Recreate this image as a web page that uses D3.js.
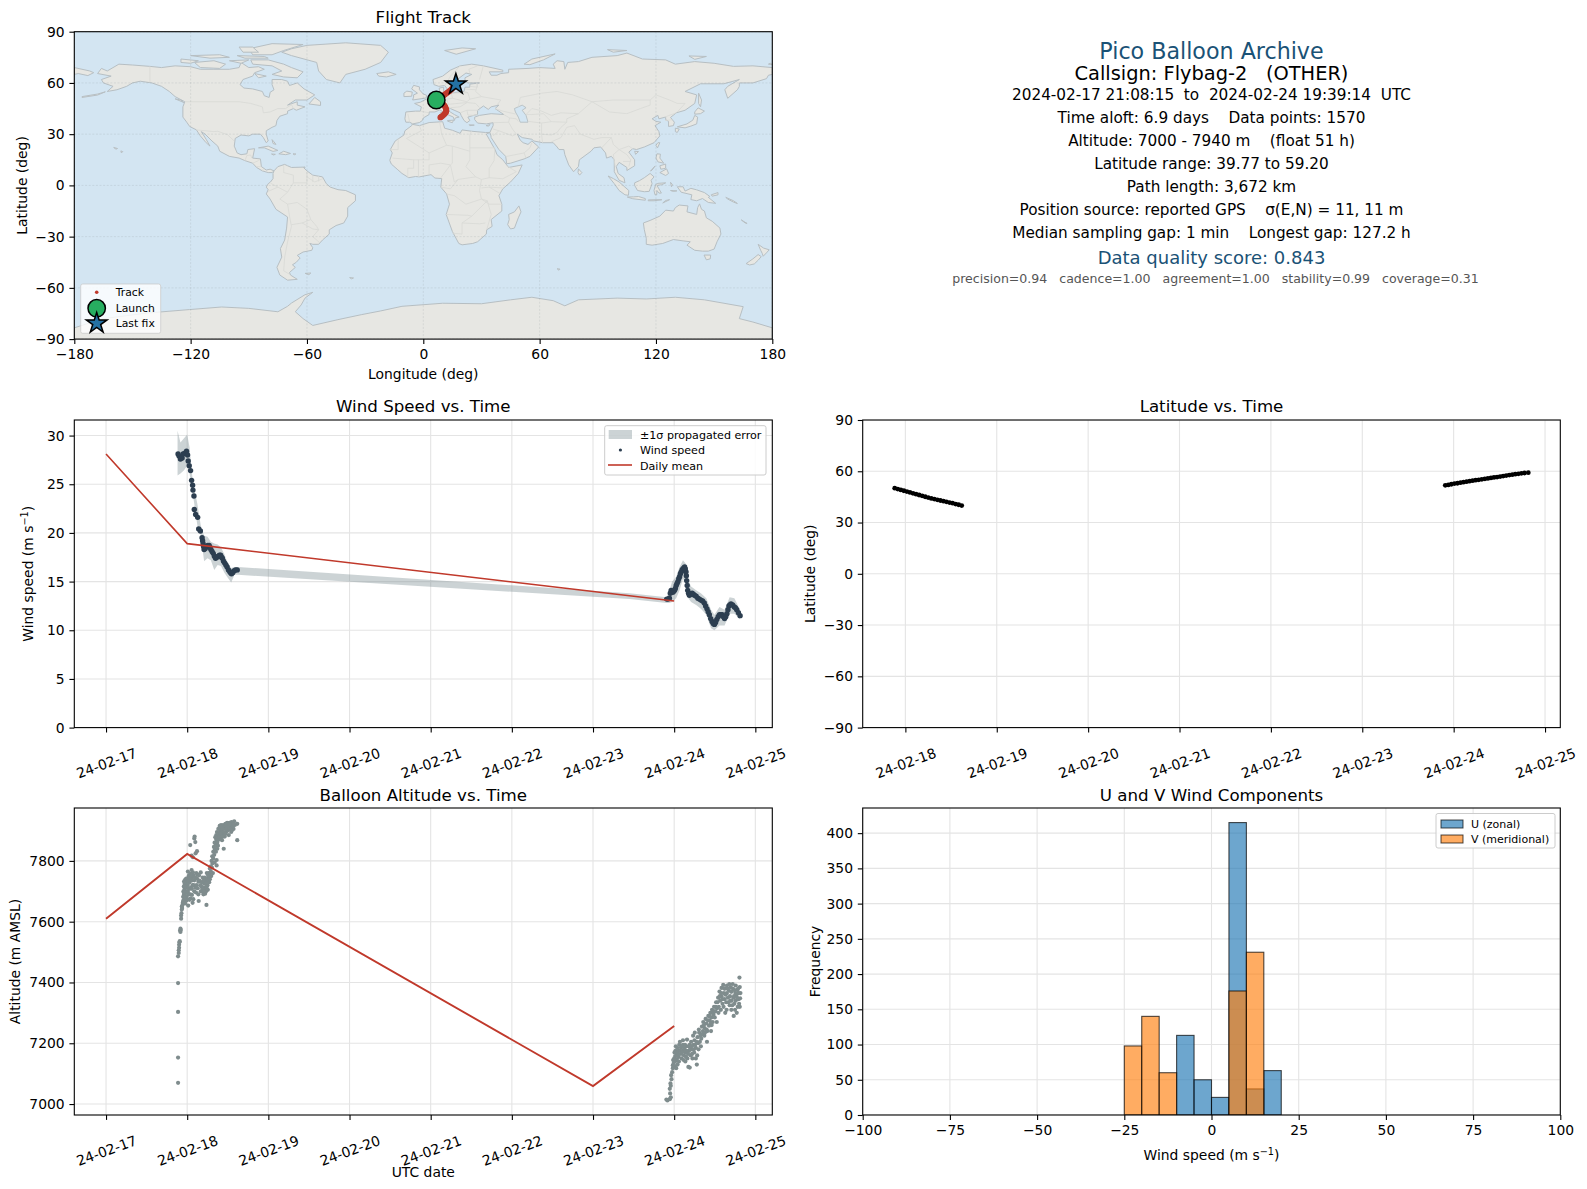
<!DOCTYPE html>
<html><head><meta charset="utf-8">
<style>html,body{margin:0;padding:0;background:#fff}svg{display:block}text{font-family:"DejaVu Sans",sans-serif;fill:#000;white-space:pre}</style>
<script src="https://cdn.jsdelivr.net/npm/d3@7"></script></head><body><svg id="c" width="1587" height="1189"></svg>
<script>
// ---------- DATA ----------
const infoLines=[
 ["Pico Balloon Archive",22.2,"#1a5276",50.6,0],
 ["Callsign: Flybag-2   (OTHER)",19.4,"#000",73.6,0],
 ["2024-02-17 21:08:15  to  2024-02-24 19:39:14  UTC",15.28,"#000",94.5,0],
 ["Time aloft: 6.9 days    Data points: 1570",15.28,"#000",117.6,0],
 ["Altitude: 7000 - 7940 m    (float 51 h)",15.28,"#000",140.8,0],
 ["Latitude range: 39.77 to 59.20",15.28,"#000",164,0],
 ["Path length: 3,672 km",15.28,"#000",187,0],
 ["Position source: reported GPS    σ(E,N) = 11, 11 m",15.28,"#000",210.3,0],
 ["Median sampling gap: 1 min    Longest gap: 127.2 h",15.28,"#000",233,0],
 ["Data quality score: 0.843",18,"#1a5276",257,0],
 ["precision=0.94   cadence=1.00   agreement=1.00   stability=0.99   coverage=0.31",12.55,"#555",278,4]];
const dayTicks=[0,1,2,3,4,5,6,7,8];
const lonTicks=[-180,-120,-60,0,60,120,180];
const latTicks=[-90,-60,-30,0,30,60,90];
const windTicks=[0,5,10,15,20,25,30];
const altTicks=[7000,7200,7400,7600,7800];
const histXTicks=[-100,-75,-50,-25,0,25,50,75,100];
const histYTicks=[0,50,100,150,200,250,300,350,400];

const trackLegA=[[6.7,50.1],[7.3,49.7],[8,49.3],[8.7,48.8],[9.4,48.3],[10,47.8],[10.6,47.2],[11,46.6],[11.3,46],[11.5,45.4],[11.7,44.8],[11.9,44.2],[11.9,43.6],[11.7,43],[11.4,42.4],[10.9,41.8],[10.4,41.2],[9.8,40.6],[9.3,40.2],[8.8,39.8]];
const trackLegB=[[9.3,51.7],[9.9,52.2],[10.6,52.8],[11.3,53.4],[12,54],[12.7,54.6],[13.4,55.2],[14.1,55.8],[14.7,56.5],[15.3,57.2],[15.9,57.9],[16.4,58.6],[16.8,59.2]];
const launchFix=[6.7,50];
const lastFix=[16.8,59.2];

// hours since 2024-02-17 00:00 UTC, value
const windLegA=[[21.3,28.1],[21.6,27.9],[22,27.6],[22.5,27.7],[22.8,28.1],[23.3,28.2],[23.8,28.4],[24.1,28],[24.3,27.4],[24.6,26.9],[25,26.4],[25.3,25.4],[25.6,24.9],[25.7,24.4],[26,23.8],[26.1,22.4],[26.5,21.9],[27.1,21.6],[27.4,20.4],[27.9,20.2],[28.4,19.5],[28.7,18.9],[29,18.3],[29.7,18.6],[30.5,18.7],[31,18.3],[31.7,17.9],[32.4,17.4],[33.2,17.6],[33.9,17.7],[34.4,17.4],[35.1,16.9],[35.8,16.5],[36.6,16],[37.1,15.8],[37.8,16.1],[38.8,16.2],
[28.55,19.2],[28.85,18.6],[29.35,18.4],[30.1,18.7],[30.75,18.5],[31.35,18.1],[32.05,17.6],[32.8,17.5],[33.55,17.7],[34.15,17.5],[34.75,17.1],[35.45,16.7],[36.2,16.2],[36.85,15.9],[37.45,15.9],[38.3,16.2]];
const windLegB=[[165.8,13.2],[166.6,13.3],[167.1,14.1],[167.6,13.9],[168.1,14.1],[168.6,14.6],[169.1,15],[169.6,15.5],[170.1,16],[170.6,16.3],[171.1,16.5],[171.5,16],[171.7,15.1],[172,14.1],[172.5,13.6],[173.3,13.8],[174,13.6],[175,13.3],[175.9,13.1],[176.9,12.8],[177.7,12.2],[178.4,11.6],[179.2,10.9],[179.9,10.6],[180.6,11.1],[181.4,11.6],[182.2,11.6],[182.9,11.2],[183.6,11.7],[184.2,12.5],[184.8,12.7],[185.8,12.4],[186.5,12.1],[187.5,11.5],
[166.2,13.2],[166.85,13.8],[167.85,14],[168.35,14.3],[168.85,14.8],[169.35,15.3],[169.85,15.8],[170.35,16.2],[170.85,16.4],[171.3,16.3],[171.6,15.6],[171.85,14.6],[172.25,13.8],[172.9,13.7],[173.65,13.7],[174.5,13.5],[175.45,13.2],[176.4,13],[177.3,12.5],[178.05,11.9],[178.8,11.2],[179.55,10.7],[180.25,10.8],[181,11.4],[181.8,11.6],[182.55,11.4],[183.25,11.4],[183.9,12.1],[184.5,12.6],[185.3,12.6],[186.15,12.3],[187,11.8]];
// hour, lower, upper
const windBand=[[21.15,25.9,30.5],[22,26.1,29.3],[23,26.4,29.7],[24,26.9,30.1],[24.7,26.1,28.8],[25.4,24.4,26.1],[26,23.2,24.7],[27,20.8,23],[28,19.8,20.8],[29,17.1,19.7],[30,17.4,19.6],[31,17.2,19.1],[32,16.2,18.9],[33,16.7,18.8],[34,16.6,18.5],[35,15.9,17.8],[36,15.4,16.9],[37,14.9,16.4],[38,15.7,16.5],[39,15.7,16.5],[154.8,13.2,13.8],[165.8,12.8,13.4],[166.6,12.8,14.1],[167.4,12.9,15],[168.6,13.3,15.5],[169.6,14.1,16.5],[170.6,15.3,17.2],[171.5,14.8,16.8],[172,13.4,15.3],[173,12.9,14.5],[174.5,12.6,14.1],[175.9,12.2,13.8],[177.5,11.6,13.3],[178.9,10.2,12.1],[179.9,10,11.6],[181.4,10.5,12.4],[182.9,10.5,12.1],[184.4,11.7,13.4],[185.8,11.7,13.3],[187.5,11.1,12.1]];
const windMeanDays=[0,1,7];
const windMeanValues=[28.1,18.9,13];
const altMeanDays=[0,1,6,7];
const altMeanValues=[7610,7823,7059,7257];

const altLegA=[[21.3,7070],[21.3,7153],[21.3,7303],[21.3,7398],[21.3,7486],[21.5,7497],[21.5,7506],[21.6,7514],[21.6,7524],[21.7,7532],[21.8,7536],[21.9,7571],[22,7577],[22,7566],[22.1,7573],[22.2,7610],[22.2,7620],[22.3,7628],[22.4,7640],[22.4,7650],[22.6,7655],[22.5,7645],
[22.7,7662],[22.9,7665],[23,7672],[22.8,7682],[23.1,7690],[22.9,7700],[23.2,7706],[23,7716],[23.3,7724],[23.1,7733],[23.4,7738],[23.6,7728],[23.6,7712],[23.5,7696],[23.8,7684],[23.8,7670],[24.1,7674],[24.3,7653],[24.2,7698],[24.1,7720],[24,7735],[24.3,7744],[24.2,7765],[24.5,7752],[24.6,7728],[24.7,7708],[24.9,7690],[25,7676],[25.4,7688],[25.6,7662],[25.8,7674],[25.2,7735],[25.5,7745],[25.3,7770],[25.7,7762],[25.9,7752],[26.1,7736],[26.3,7718],[26.1,7700],[26.6,7696],[26.9,7742],[26.7,7760],[27.1,7755],[27.3,7732],[27.3,7690],[27.4,7668],[27.7,7735],[28,7762],
[24.9,7852],[26.1,7874],[26.4,7862],[26.2,7880],[26.9,7832],[26.5,7825],[25.3,7817],[25.7,7812],
[28.2,7715],[28.3,7700],[28.4,7730],[28.6,7745],[28.7,7712],[28.8,7690],[29,7725],[29.1,7705],[29.2,7745],[29.3,7692],[29.4,7730],[29.4,7712],[29.6,7700],[29.6,7740],[29.7,7655],[29.8,7760],[30,7720],[30,7742],[30.2,7752],[30.3,7735],[30.4,7760],[30.6,7748],[30.7,7775],[30.8,7760],[31,7782],[31,7765],[31.2,7800],[31.3,7778],[31.4,7815],[31.5,7792],[31.7,7830],[31.7,7808],[31.9,7846],[32,7820],[32.1,7860],[32.2,7838],[32.3,7878],[32.4,7850],[32.6,7870],[32.6,7885],[32.7,7785],[32.7,7803],[32.8,7895],[32.9,7860],[33,7878],[33.2,7905],[33.3,7888],[33.4,7870],[33.6,7915],[33.7,7895],[33.8,7905],[34,7878],[34,7918],[34.2,7900],[34.3,7912],[34.3,7868],[34.6,7918],[34.7,7890],[34.8,7908],[34.8,7840],[35,7915],[35.1,7880],[35.3,7905],[35.3,7922],[35.6,7895],[35.7,7915],[35.8,7925],[36,7900],[36.1,7918],[36.3,7885],[36.5,7925],[36.6,7905],[36.8,7915],[37,7895],[37.1,7928],[37.3,7912],[37.4,7922],[37.7,7905],[37.9,7930],[38.1,7918],[38.8,7922],[38.8,7868],
[22.8,7668],[23.2,7680],[23.4,7660],[23,7696],[23.4,7716],[23.2,7728],[23.7,7742],[24,7700],[24.4,7710],[24.5,7690],[24.7,7672],[24.3,7735],[24.7,7742],[24.9,7758],[25.1,7712],[25.1,7752],[25.6,7720],[25.4,7708],[25.9,7720],[26.4,7745],[26.5,7712],[26.8,7720],[27.1,7710],[27.5,7752],[28,7700],[27.9,7720],[28.5,7708],[28.9,7735],[29,7700],[29.5,7725],[29.8,7715],[30.1,7705],[30.5,7730],[30.7,7740],[31.1,7750],[31.6,7760],[32.1,7795],[32.5,7830],[32.9,7840],[33.5,7880],[33.1,7850],[33.9,7890],[34.1,7912],[34.4,7905],[34.5,7880],[34.9,7895],[35.2,7888],[35.5,7920],[35.9,7910],[36.2,7924],[36.4,7905],[36.7,7920],[36.9,7905],[37.2,7900],[37.5,7915],[37.6,7925],[37.8,7920]];
const altLegB=[[165.7,7015],[166,7012],[166.7,7016],[167,7022],[166.8,7035],[166.7,7050],[167,7060],[166.9,7068],[167.2,7082],[167.1,7095],[167.4,7105],[167.6,7118],[167.6,7128],[167.9,7136],[168.2,7125],[168.6,7118],[168.5,7142],[168.3,7158],[168.4,7175],[168.8,7148],[168.8,7165],[168.5,7190],[169,7130],[169.3,7155],[169.3,7175],[169.5,7195],[169.7,7205],[170,7165],[170,7185],[170.2,7150],[170.6,7175],[170.6,7195],[170.6,7210],[170.9,7160],[171,7182],[171.3,7140],[171.4,7170],[171.6,7190],[171.8,7212],[171.9,7150],[172.2,7122],[172.6,7120],[172.4,7175],[172.6,7195],[172.9,7160],[173,7205],[173.2,7180],[173.4,7150],[173.6,7225],[173.7,7195],[173.9,7170],[174.1,7235],[174,7210],[174.4,7185],[174.4,7150],[174.7,7130],[174.8,7160],[174.9,7220],[175.1,7200],[175.3,7245],[175.4,7235],[175.6,7205],[175.9,7190],[176,7215],[176.2,7255],[176.5,7240],[176.6,7270],[176.9,7225],[177,7250],[177.3,7280],[177.5,7265],[177.7,7205],[177.8,7240],[178.1,7290],[178.3,7258],[178.5,7275],[178.7,7300],[178.9,7240],[179,7285],[179.2,7310],[179.4,7270],[179.6,7295],[179.8,7320],[180,7285],[180.2,7305],[180.4,7335],[180.6,7270],[180.7,7315],[181,7350],[181.2,7320],[181.4,7370],[181.6,7340],[181.8,7310],[182,7382],[182,7355],[182.3,7330],[182.5,7392],[182.7,7365],[182.9,7345],[183.1,7300],[183,7380],[183.4,7335],[183.6,7365],[183.6,7390],[183.9,7350],[184.1,7375],[184.4,7325],[184.5,7355],[184.7,7385],[184.9,7310],[185,7340],[185,7370],[185.3,7395],[185.5,7350],[185.6,7290],[185.8,7330],[185.9,7375],[186.2,7340],[186.2,7390],[186.4,7360],[186.5,7300],[186.8,7320],[186.9,7380],[187,7345],[187.1,7365],[187.4,7385],[187.5,7348],[187.3,7416],[187.4,7320],
[167.7,7145],[168,7150],[168.1,7170],[168.9,7185],[169.1,7165],[169.4,7140],[169.8,7175],[170.3,7170],[170.4,7190],[170.8,7145],[171.2,7195],[171.5,7155],[171.7,7175],[172.1,7165],[172.3,7190],[172.7,7180],[173.1,7190],[173.3,7165],[173.8,7180],[174.2,7195],[174.6,7205],[175.2,7180],[175.8,7225],[176.3,7230],[176.8,7260],[177.1,7235],[177.6,7245],[178,7275],[178.4,7290],[178.8,7265],[179.1,7260],[179.5,7305],[179.9,7305],[180.3,7320],[180.8,7335],[181.1,7300],[181.5,7355],[181.9,7365],[182.2,7345],[182.6,7320],[182.8,7380],[183.2,7360],[183.5,7310],[183.8,7380],[184,7335],[184.3,7395],[184.6,7340],[184.8,7370],[185.2,7325],[185.4,7380],[185.7,7355],[186,7310],[186.1,7365],[186.6,7350],[186.7,7375],[187.2,7330],[187.6,7365]];

const latLegA=[[21.2,50.1],[22,49.6],[22.8,49.1],[23.6,48.6],[24.4,48.1],[25.2,47.6],[26,47.1],[26.8,46.6],[27.6,46.1],[28.4,45.6],[29.2,45.1],[30,44.6],[30.8,44.1],[31.6,43.7],[32.4,43.3],[33.2,42.9],[34,42.5],[34.8,42.1],[35.6,41.7],[36.4,41.3],[37.2,40.8],[38,40.4],[38.8,39.9]];
const latLegB=[[165.8,51.8],[166.6,52],[167.4,52.4],[168.2,52.8],[169,53],[169.8,53.3],[170.6,53.6],[171.4,53.9],[172.2,54.2],[173,54.5],[173.8,54.8],[174.6,55],[175.4,55.3],[176.2,55.6],[177,55.8],[177.8,56.1],[178.6,56.4],[179.4,56.6],[180.2,56.9],[181,57.2],[181.8,57.5],[182.6,57.8],[183.4,58],[184.2,58.3],[185,58.5],[185.8,58.8],[186.6,59],[187.6,59.2]];

const histEdgesU=[-10,-5,0,5,10,15,20];
const histCountsU=[113,50,25,415,37,63];
const histEdgesV=[-25,-20,-15,-10,-5,0,5,10,15];
const histCountsV=[98,140,60,0,0,0,176,231];

// coastlines, lon/lat
const landNorthAmerica=[[-168,65.5],[-166,68.5],[-163,67],[-157,71],[-150,70.5],[-141,69.7],[-135,69],[-128,70],[-120,69.5],[-115,68],[-108,68],[-100,68],[-95,69],[-94,72],[-90,69],[-85,69.5],[-82,68],[-87,66],[-88,64],[-93,62],[-94.5,59],[-92.5,57],[-88,56.5],[-83,55],[-82,52.5],[-79.5,51.5],[-79,54.5],[-77,56],[-78,59],[-78,62],[-73,62],[-70,61],[-69,58.5],[-65,60],[-61.5,56.5],[-56,53],[-60,50],[-66,50],[-70,47],[-65,49],[-65,47],[-61,46],[-65.5,44],[-67,45],[-70,43.5],[-70,42],[-74,40.5],[-75.5,38],[-76,35],[-78,34],[-81,32],[-81,30],[-80,26],[-81,25],[-82.5,28],[-84,30],[-88,30],[-90,29],[-94,29.5],[-97,27.5],[-97.5,23],[-96,19],[-94,18],[-91,18.5],[-90.5,21],[-87,21.5],[-88,16],[-84,15.5],[-83.5,11],[-81,9],[-79,9.5],[-77,8.5],[-78,7.5],[-80,7.5],[-83,8.5],[-86,10.5],[-88,13],[-92,14.5],[-95,16],[-100,17],[-105,20],[-106,23],[-109,26],[-112.5,30],[-114.5,31.5],[-112,27],[-110,23],[-112,25],[-115,29],[-117,32.5],[-120.5,34.5],[-122,37],[-124,40],[-124,46],[-123,49],[-128,52],[-131,55],[-135,58],[-140,60],[-146,61],[-150,60],[-153,58],[-158,56],[-163,55],[-160,58],[-165,60],[-166,62],[-161,64],[-168,65.5]];
const landSouthAmerica=[[-77,8.5],[-75,11],[-71.5,12.3],[-70,11.5],[-68,10.5],[-62,10.7],[-60,8.5],[-57,6],[-52,5],[-50,1],[-48,-1],[-44,-2.5],[-40,-3],[-35,-5.5],[-35,-9],[-39,-13],[-39,-18],[-41,-22],[-45,-23.5],[-48.5,-26],[-48.5,-28.5],[-52,-32],[-54,-34.5],[-57,-34.5],[-58.5,-34],[-57,-36.5],[-57.5,-38],[-62,-39],[-65,-41],[-63.5,-42.5],[-65.5,-45],[-67.5,-46.5],[-66,-48],[-69,-51],[-68.5,-52.5],[-65,-55],[-70,-55.5],[-74,-52.5],[-75.5,-48],[-73,-42],[-73.7,-37],[-71.5,-32],[-70.5,-25],[-70,-18.5],[-76,-14],[-79,-8],[-81,-5],[-80,-2.5],[-81,-1],[-80,1],[-78.8,2],[-77.5,4],[-77.5,7],[-77,8.5]];
const landEurasia=[[-9,37],[-9.5,39],[-9,43],[-4,43.5],[-1.5,43.5],[-1,46],[-4.5,48],[-1.5,48.7],[1.5,50.5],[4,52],[6,53.5],[8.5,54],[8.2,57],[10.5,57.5],[10.5,54.5],[14,54],[18.5,54.7],[21,55],[21.5,57.5],[24,57.5],[24,59.3],[29,60],[23,60],[21.5,61],[21.5,63],[25,65],[22,65.8],[17.5,62],[17,60.7],[18.7,60],[16.5,57.5],[14.5,56],[13,55.5],[11,58.5],[8,58],[5.5,59],[5,62],[10,64],[14,67.5],[19,70],[25,71],[31,70],[41,67.5],[41,66.5],[34,66.5],[35,64.5],[38,64.5],[40,65.5],[44,66],[44,68],[54,68.5],[60,69],[68,68.5],[67,71],[69,73],[72.5,72.5],[73,68],[74.5,72],[80,72.5],[87,75],[100,76],[105,77.5],[113,74],[125,73.5],[130,71],[140,72.5],[150,71.5],[160,69.7],[170,70],[180,69],[180,65],[178,64.5],[177,62.5],[170,60],[163,60],[163,58],[162,56],[157,51],[155.5,56],[157,58],[163,62],[155,59.5],[143,59.5],[135,55],[141,53],[140,48],[135,44],[130.5,42.5],[127.5,39.8],[129.5,37],[129,35],[126.5,34.5],[126.5,37.5],[125,38.5],[125,40],[121.5,39],[121,41],[118,39],[120,37.5],[122.5,37],[119.5,35],[121.5,31.5],[122,29],[119,25],[114,22.5],[110,21],[108,21.5],[106,19.5],[109,15],[109,11.5],[105,8.7],[105,10.5],[101,13.5],[99.5,11],[100.5,7],[103.5,4.5],[104,1.5],[101,3],[98.5,8],[98.5,15],[97,17],[94.5,16],[94,19],[91.5,22.5],[88,22],[86.5,20],[80.5,15],[80,11],[77.5,8],[75,12],[73,18],[72.5,21],[70,21],[69,22.5],[67,25],[61.5,25],[57,26],[56,27],[51,28],[48.5,30],[50,26.5],[51.5,25],[54,24],[56,26],[59.5,22.5],[55,17],[52,15.5],[45,13],[43,12.7],[42.5,17],[39,21],[35,28],[34.8,29.5],[34.3,31],[36,35],[36,36.7],[32.5,36],[28,36.5],[26.5,38.5],[26.5,40],[29,41],[35,42],[41.5,41.5],[37,45],[39,47],[35,46],[33.5,44.5],[31,46.5],[28,44],[28,41.5],[26,41],[23,40],[24,38],[22.5,36.7],[21,38],[19.5,41],[19,42.5],[14,45],[12.5,45.5],[12.5,44],[16,41.5],[18.5,40],[16.5,39.5],[16,38],[15.5,40],[12.5,41.5],[10.5,43],[8.5,44.2],[6,43],[3,43],[3,41.5],[0,39.5],[-0.5,38],[-2,36.8],[-5.5,36],[-7,37],[-9,37]];
const landAfrica=[[-5.8,35.8],[-2,35],[3,36.8],[10,37.3],[11,33.5],[15,32.3],[19,30.5],[20,32.5],[25,31.7],[32,31],[34.3,31],[32.5,30],[34,27],[37,21],[38,18],[41,15],[43,12],[44,10.5],[51,12],[49,7],[45,2],[41,-2],[39,-6],[40.5,-11],[40.5,-15],[35,-20],[35.5,-24],[32.7,-26],[32.5,-28.5],[28,-33],[25.5,-34],[20,-34.8],[18.3,-34],[15,-27],[11.8,-17],[13.5,-11],[12,-5],[9,-1],[9.5,4],[6,4.3],[4,6.3],[-2,5],[-4,5.2],[-7.5,4.5],[-11,7],[-13.5,9.5],[-16.5,12.5],[-17.3,14.7],[-16,19],[-17,21],[-14.5,26],[-10,29.5],[-9.5,32],[-6,35],[-5.8,35.8]];
const landAustralia=[[113.5,-22],[114,-26],[115,-31],[115,-34.5],[118,-35],[123.5,-34],[129,-31.7],[134,-32.5],[137.7,-33],[136,-35],[140,-38],[144,-38.5],[147,-38.5],[150,-37.3],[151.5,-33],[153.5,-28.5],[153,-25],[149,-21],[146,-19],[145,-15],[143.5,-14],[142.5,-10.8],[141.5,-13],[141,-17],[136,-15.5],[136.5,-12],[132,-11.5],[130,-13],[129,-15],[125,-14.5],[122,-18],[117,-20.5],[113.5,-22]];
const landAntarctica=[[-180,-90],[-180,-83.4],[-165,-78],[-142,-74.7],[-120.5,-72.7],[-104,-71.2],[-90,-72],[-75,-74],[-70,-70.8],[-68,-68.9],[-61,-64],[-57,-62.6],[-61,-66],[-63,-70],[-66,-74],[-62,-78],[-57,-82],[-44,-78.6],[-32,-75.7],[-22,-73.5],[-11,-70.8],[10,-69],[30,-69.3],[45,-67],[56,-65.5],[67,-67.5],[73,-70.5],[80,-67],[100,-66],[115,-66.5],[130,-65.5],[145,-67],[165,-71],[163,-78],[170,-80],[180,-83.4],[180,-90]];
const landGreenland=[[-73,78],[-68,80],[-60,82],[-40,83.5],[-22,82],[-18,78],[-22,72],[-30,68],[-40,65],[-43,60],[-50,62],[-54,67],[-55,72],[-68,76],[-73,78]];
const landBaffin=[[-80,73.5],[-72,71],[-68,69],[-62,66.5],[-65,63],[-72,63.5],[-78,65],[-73,67],[-78,70],[-88,71],[-89,73.5],[-80,73.5]];
const landVictoria=[[-118,72],[-108,73],[-102,71],[-105,68.5],[-115,69],[-118,72]];
const landBanks=[[-125,74],[-116,73],[-120,71.5],[-125,72],[-125,74]];
const landEllesmere=[[-90,80],[-78,83],[-62,82.5],[-72,79],[-78,76.5],[-88,76.5],[-90,80]];
const landQueenE=[[-120,76],[-105,76.5],[-100,75],[-110,74.5],[-120,76]];
const landAxel=[[-95,81],[-88,81],[-85,78],[-93,78],[-95,81]];
const landDevon=[[-96,76],[-82,75.5],[-80,74.5],[-92,74.5],[-96,76]];
const landSomerset=[[-100,73],[-90,73.5],[-94,71.5],[-100,73]];
const landSouthampton=[[-87,65.5],[-81,64],[-85,63],[-87,65.5]];
const landNewfoundland=[[-59,47.7],[-53,46.8],[-53,49],[-56,51.5],[-59,47.7]];
const landVancouver=[[-128,50.7],[-125,50],[-123.5,48.5],[-128,50.7]];
const landCuba=[[-85,22],[-80,23],[-75,20.5],[-77.5,19.9],[-82,22],[-85,22]];
const landHispaniola=[[-74.5,18.5],[-72,20],[-68.5,18.7],[-71,18],[-74.5,18.5]];
const landIceland=[[-24,65.5],[-18,66.5],[-14,65],[-19,63.5],[-23,64],[-24,65.5]];
const landBritain=[[-5.5,50],[1.5,51.2],[1.7,52.8],[0,53.5],[-2,56],[-2,57.7],[-5,58.6],[-6,56.5],[-3,54],[-5,53],[-5,51.7],[-5.5,50]];
const landIreland=[[-10,52],[-6,52.2],[-5.7,54.7],[-8.5,55.2],[-10,54],[-10,52]];
const landSvalbard=[[11,79],[20,80.5],[27,80],[17,76.8],[11,79]];
const landNovayaZemlya=[[52,71],[56,74],[68,77],[62,73.5],[55,70.7],[52,71]];
const landSevernaya=[[95,79.5],[105,79],[98,78],[95,79.5]];
const landNewSiberia=[[137,75.8],[146,75.5],[140,73.8],[137,75.8]];
const landWrangel=[[179,71.5],[180,70.8],[178,71],[179,71.5]];
const landSakhalin=[[142,54],[143.5,50],[143,46],[142,48],[142,54]];
const landHokkaido=[[140,43],[141.7,45.4],[145,43.5],[143,42],[140,41.7],[140,43]];
const landHonshu=[[131,34.3],[136,36],[139,38.2],[140,41],[141.5,40],[141,36],[138,34.7],[135,33.7],[131,34.3]];
const landKyushu=[[130,33.5],[132,33],[131,31],[130,31.5],[130,33.5]];
const landTaiwan=[[121,25],[122,25],[120.8,22],[120,23.5],[121,25]];
const landHainan=[[109,20],[111,19.8],[109.5,18.2],[109,20]];
const landLuzon=[[120.5,18.5],[122.3,18.3],[122,16],[124,13],[121,13.8],[120,16],[120.5,18.5]];
const landMindanao=[[122,7.5],[125.5,9.7],[126.5,7],[125,5.8],[122,7.5]];
const landVisayas=[[122,11.5],[125,12.5],[125,10],[122.5,9.5],[122,11.5]];
const landPalawan=[[117.2,8.4],[119.5,11.3],[118,9],[117.2,8.4]];
const landBorneo=[[109,1.5],[111.5,2.8],[114,4.5],[117,7],[119,5],[117.5,3],[118,1],[116.5,-3.5],[114,-3.7],[110.5,-3],[109,0],[109,1.5]];
const landSumatra=[[95.3,5.5],[98,4],[101,2],[104,-1],[106,-3],[105.8,-5.8],[104,-5.5],[101,-3],[98.5,1],[95.3,5.5]];
const landJava=[[105.2,-6.8],[108.5,-6.7],[111,-6.5],[114.5,-7.7],[114.5,-8.7],[108,-7.8],[105.2,-6.8]];
const landLesser=[[116,-8.5],[119,-8.4],[123,-8.4],[119,-9],[116,-9],[116,-8.5]];
const landTimor=[[123.5,-10.3],[127,-8.4],[125,-8.8],[123.5,-10.3]];
const landSulawesi=[[119.8,0.5],[121,1.2],[125,1.5],[123,0.4],[120.5,0],[122.8,-4.5],[121.5,-4.5],[120.5,-3],[120.4,-5.5],[119.5,-5.5],[119,-3],[119.8,0.5]];
const landHalmahera=[[127.5,1.8],[128.5,0.5],[128,-0.8],[127.5,1.8]];
const landCeram=[[127.5,-3],[130.8,-3.2],[129,-3.5],[127.5,-3]];
const landNewGuinea=[[131,-0.8],[134,-0.8],[135,-3.3],[138,-1.7],[141,-2.6],[145,-4.2],[147.8,-6.5],[147,-7],[150.8,-10.5],[147,-10],[144,-7.7],[141,-9],[138,-8.3],[138.5,-5.5],[133,-4],[131,-0.8]];
const landBritainNew=[[148.5,-5.5],[152,-4.2],[152,-5.5],[149,-6.3],[148.5,-5.5]];
const landSolomon=[[156,-7],[160,-9],[162,-10.6],[160,-9.8],[157,-8],[156,-7]];
const landNewCaledonia=[[164,-20.2],[167,-22.3],[166,-22],[164,-20.2]];
const landTasmania=[[144.8,-40.8],[148.2,-40.8],[148,-43],[146,-43.6],[144.8,-40.8]];
const landNZNorth=[[172.7,-34.5],[175.5,-36.7],[178.4,-37.7],[177,-39.5],[175.3,-41.5],[174.8,-39.8],[174,-38],[172.7,-34.5]];
const landNZSouth=[[172.7,-40.5],[174.3,-41.7],[172.8,-43.7],[170.7,-46],[168.3,-46.6],[166.5,-45.8],[170,-43],[172.7,-40.5]];
const landSriLanka=[[80,9.7],[81.8,7.5],[80.6,6],[79.8,7.5],[80,9.7]];
const landMadagascar=[[49.3,-12],[50.4,-15.5],[49,-19],[47,-25],[45,-25.5],[43.5,-23],[44.3,-20],[44,-17],[47,-15.5],[49.3,-12]];
const landSicily=[[12.5,38],[15.6,38.2],[15,36.7],[12.5,37.6],[12.5,38]];
const landSardinia=[[8.2,41],[9.7,41],[9.5,39.2],[8.5,39],[8.2,41]];
const landCorsica=[[8.7,42.5],[9.5,43],[9.3,41.5],[8.7,42.5]];
const landCrete=[[23.6,35.5],[26.3,35.3],[24,35],[23.6,35.5]];
const landCyprus=[[32.4,35],[34.5,35.6],[33.5,34.7],[32.4,35]];
const landFalkland=[[-61,-51.5],[-58,-51.3],[-59,-52.3],[-61,-51.5]];
const landSouthGeorgia=[[-38,-54],[-36,-54.2],[-37,-54.7],[-38,-54]];
const landKerguelen=[[69,-48.8],[70.5,-49],[70,-49.7],[69,-48.8]];
const landHawaii=[[-156,20.2],[-155,19.8],[-155.7,19],[-156,20.2]];
const landOahu=[[-159.7,22.2],[-157.7,21.6],[-158.5,21.2],[-159.7,22.2]];
const landBahamas=[[-78,26.8],[-77,25.5],[-76,24],[-77.5,24.5],[-78,26.8]];
const landJamaica=[[-78.3,18.4],[-76.3,18.2],[-77.3,17.8],[-78.3,18.4]];
const landPuertoRico=[[-67.2,18.5],[-65.7,18.4],[-66.5,17.95],[-67.2,18.5]];
const landTrinidad=[[-61.8,10.7],[-61,10.8],[-61.2,10.1],[-61.8,10.7]];
const landAleutian=[[-176,52],[-168,53.5],[-164,54.8],[-168,52.9],[-176,51.5],[-176,52]];
const landEastSiberiaWrap=[[-180,69],[-172,67],[-170,66],[-173,64.3],[-178,65.5],[-180,65],[-180,69]];
const seaCaspian=[[47,45],[51,47],[53,45.5],[51,44],[53,41],[54,37],[50,37],[49,40],[47.5,43],[47,45]];
const borderLines=[
[[-123,49],[-95,49],[-89,48],[-83,46],[-82.5,42.5],[-79,43],[-75,45],[-71,45],[-68,47.3],[-67,45]],[[-141,69.7],[-141,60.3]],[[-117,32.5],[-108,31.5],[-106,31.7],[-101,29.7],[-97.5,26]],
[[-92,14.5],[-91,17.5],[-89,17.8],[-88.5,16]],[[-88,13],[-85,14.5],[-84,15.5]],[[-86,11],[-83.7,11]],[[-83,8.5],[-82.7,9.5]],
[[-51.7,4],[-56,2],[-60,5],[-60,1.5],[-64,1.5],[-67,1.5],[-70,-4],[-74,-8],[-70,-11],[-65,-10],[-60,-14],[-58,-20],[-55,-24],[-54,-26],[-57,-30],[-53.5,-33.5]],[[-69,-18],[-68,-24],[-70,-33],[-71.5,-42],[-72,-50],[-69,-52]],[[-70,-11],[-69,-18]],[[-58,-20],[-62.5,-22],[-68,-23]],[[-70,-4],[-75,-1],[-78.8,1.3]],[[-67,1.5],[-67,6],[-72,7.5],[-72,11.8]],[[-75,-1],[-80,-3.5]],[[-60,8],[-60,5]],[[-57,6],[-57,2]],[[-54,5.5],[-54,2.3]],[[-62.5,-22],[-57,-25.5],[-54,-26]],
[[-8.7,27.5],[-1,32],[-2,35]],[[-8.7,27.5],[3,19],[12,23.5],[9.5,30],[8.5,36.8]],[[12,23.5],[15,23],[24,20],[24,30],[25,31.7]],[[24,22],[36.9,22]],[[24,20],[24,15],[22,11],[27,5],[30,3.5],[34,4.5],[41,3.9]],[[36.9,22],[36.5,14.5],[34,10],[34,4.5]],[[15,23],[15,13],[14,12],[9,13],[3,12],[3,6.3]],[[-16,16],[-5,15],[3,15],[3,19]],[[-5,15],[-5,10],[-8,10],[-8,4.5]],[[-2.5,5],[-2.5,15]],[[9,4.4],[14,12]],[[14,12],[16,2],[18,3.5],[27,5]],[[12,-5],[16,-6],[22,-11],[30,-8],[29,-3],[30,3.5]],[[11.8,-17],[23,-17.5],[25,-18],[33,-9],[30,-8]],[[33,-9],[35,-17],[32.7,-26]],[[20,-28.5],[20,-22],[25,-18]],[[15,-28],[20,-28.5]],[[20,-22],[29,-22.5],[32,-22]],[[41,-1.5],[34,-1],[30,-1.5]],[[34,-1],[39.5,-4.7]],[[30,-8],[34,-11]],[[34,-11],[40.5,-11]],[[41,3.9],[48,8],[43,11.5]],[[-17,21],[-13,21],[-13,27.5]],[[9,-1],[14,-2],[18,3.5]],
[[-1.5,43.5],[3,42.5]],[[-8,42],[-7,37]],[[2.5,51],[8,49],[7.5,47.5],[6,46],[7.5,44]],[[7,53.5],[6,50.5]],[[14.5,54],[15,51],[12,50.5],[13,47.5],[7.5,47.5]],[[14.5,54],[23,54.3],[24,50.5],[22.5,49],[15,51]],[[21,55],[23,54.3]],[[21.5,56.4],[27,56]],[[24,58],[28,57.5],[27.5,60]],[[24,50.5],[30,52],[40,50],[38,47]],[[30,52],[27,55],[28,59.5]],[[23.5,68],[28,70]],[[23.5,68],[24,65.8]],[[29,62],[31,70]],[[19,70],[14,64],[12,60],[11,58.5]],[[13,47.5],[22.5,48.5],[27,48],[29,45.5]],[[22.5,44],[29,44]],[[19,42.5],[22.5,44],[23,41.2],[26,41]],[[14,45.5],[19,46],[22.5,48.5]],[[26,41],[28,41.5]],[[36,36.7],[44,37],[44.5,39.5],[41.5,41.5]],[[36,33],[39,32],[46,29],[48,30]],[[44,37],[46,33],[48,30]],[[36,29],[39,32]],[[44.5,39.5],[48,39],[49,37.5]],[[54,37.5],[61,36.5],[61,30],[61.5,25]],[[61,36.5],[66,37.3],[74,37]],[[61,30],[66,29.5],[69,31],[71,34],[74,37]],[[66,25.5],[71,28],[74,34],[78,35],[81,30],[88,27],[92,28],[97,28],[92,22]],[[97,28],[98,24],[101,21],[106,23],[108,21.5]],[[101,21],[105,18],[107,15],[106,11]],[[101,21],[98,18],[99,11]],[[103,14],[107,14]],[[49,46],[50,51.5],[61,54],[69,55],[77,53],[87,49]],[[53,41.5],[56,45],[60,44],[66,41],[71,42.5],[80,42],[87,49]],[[87,49],[98,50],[106,50],[117,50],[120,53],[127,50],[131,48],[135,48],[131,43]],[[87,49],[96,43],[105,42],[112,45],[117,47],[117,50]],[[80,42],[74,39],[74,37]],[[124.5,40],[130.5,42.5]],[[124.7,38],[128.5,38.5]],[[43,17],[52,19],[55,22],[56,25]],[[52,19],[53,16]],[[66,37.3],[62,42],[56,41.5],[53,41.5]],[[37,45],[41,43.5],[47.5,41.8]]
];
const landMasses=[landNorthAmerica,landSouthAmerica,landEurasia,landAfrica,landAustralia,landAntarctica,landGreenland,landBaffin,landVictoria,landBanks,landEllesmere,landQueenE,landAxel,landDevon,landSomerset,landSouthampton,landNewfoundland,landVancouver,landCuba,landHispaniola,landIceland,landBritain,landIreland,landSvalbard,landNovayaZemlya,landSevernaya,landNewSiberia,landWrangel,landSakhalin,landHokkaido,landHonshu,landKyushu,landTaiwan,landHainan,landLuzon,landMindanao,landVisayas,landPalawan,landBorneo,landSumatra,landJava,landLesser,landTimor,landSulawesi,landHalmahera,landCeram,landNewGuinea,landBritainNew,landSolomon,landNewCaledonia,landTasmania,landNZNorth,landNZSouth,landSriLanka,landMadagascar,landSicily,landSardinia,landCorsica,landCrete,landCyprus,landFalkland,landSouthGeorgia,landKerguelen,landHawaii,landOahu,landBahamas,landJamaica,landPuertoRico,landTrinidad,landAleutian,landEastSiberiaWrap];

// ---------- LAYOUT ----------
const svg=d3.select("#c");
const LX=74.3,LW=698,RX=862.7,RW=697.6;
const R1=[31.7,339.1],R2=[420,727.6],R3=[808,1115];
const T0=Date.UTC(2024,1,17);
const toDate=h=>new Date(T0+h*3600e3);
const fmtDate=d3.utcFormat("%y-%m-%d");
const xLeft=d3.scaleUtc().domain([toDate(-0.391*24),toDate(8.209*24)]).range([LX,LX+LW]);
const xRight=d3.scaleUtc().domain([toDate(0.533*24),toDate(8.167*24)]).range([RX,RX+RW]);
const TICK=13.89;
let clipId=0;
function panel(x,yr,sx,sy,xt,yt,xf,yf,title,opts={}){
  const g=svg.append("g");
  const w=sx.range()[1]-sx.range()[0],h=yr[1]-yr[0];
  const id="clip"+(clipId++);
  svg.append("clipPath").attr("id",id).append("rect").attr("x",x).attr("y",yr[0]).attr("width",w).attr("height",h);
  if(opts.bg) g.append("rect").attr("x",x).attr("y",yr[0]).attr("width",w).attr("height",h).attr("fill",opts.bg);
  const body=g.append("g").attr("clip-path",`url(#${id})`);
  if(!opts.noGrid){
    const gg=body.append("g");
    gg.selectAll(null).data(xt).join("line").attr("x1",d=>sx(d)).attr("x2",d=>sx(d)).attr("y1",yr[0]).attr("y2",yr[1]).attr("stroke","#e4e4e4").attr("stroke-width",1.1);
    gg.selectAll(null).data(yt).join("line").attr("y1",d=>sy(d)).attr("y2",d=>sy(d)).attr("x1",x).attr("x2",x+w).attr("stroke","#e4e4e4").attr("stroke-width",1.1);
  }
  const content=body.append("g");
  const top=g.append("g");
  const ax=d3.axisBottom(sx).tickValues(xt).tickFormat(xf).tickSize(4.9).tickPadding(4.8);
  const ay=d3.axisLeft(sy).tickValues(yt).tickFormat(yf).tickSize(4.9).tickPadding(4.8);
  const gx=g.append("g").attr("transform",`translate(0,${yr[1]})`).call(ax);
  const gy=g.append("g").attr("transform",`translate(${x},0)`).call(ay);
  [gx,gy].forEach(a=>{a.select(".domain").remove();a.selectAll("line").attr("stroke","#000").attr("stroke-width",1.1);a.selectAll("text").attr("font-size",TICK).attr("font-family","DejaVu Sans").attr("fill","#000");});
  if(opts.rot){gx.selectAll("text").attr("y",0).attr("dy",0).attr("text-anchor","middle").attr("dominant-baseline","central").attr("transform","translate(0,35.5) rotate(-20)");}
  g.append("rect").attr("x",x).attr("y",yr[0]).attr("width",w).attr("height",h).attr("fill","none").attr("stroke","#000").attr("stroke-width",1.1);
  svg.append("text").attr("x",x+w/2).attr("y",yr[0]-(opts.titleGap||8)).attr("text-anchor","middle").attr("font-size",16.67).text(title);
  return {content,top,g};
}
function addParts(t,parts){
  if(typeof parts==="string"){t.text(parts);return;}
  t.append("tspan").text(parts[0]);
  t.append("tspan").attr("dy",-5).attr("font-size",9.7).text(parts[1]);
  t.append("tspan").attr("dy",5).text(parts[2]);
}
function ylabel(x,y,parts){
  addParts(svg.append("text").attr("transform",`translate(${x},${y}) rotate(-90)`).attr("text-anchor","middle").attr("font-size",TICK),parts);
}
function xlabel(x,y,parts){
  addParts(svg.append("text").attr("x",x).attr("y",y).attr("text-anchor","middle").attr("font-size",TICK),parts);
}
const unit=["Wind speed (m s","−1",")"];
const minusFmt=d=>String(d).replace("-","−");
const dayDates=dayTicks.map(d=>toDate(d*24));

// ---------- MAP ----------
const mx=d3.scaleLinear().domain([-180,180]).range([LX,LX+LW]);
const my=d3.scaleLinear().domain([-90,90]).range([R1[1],R1[0]]);
const OCEAN="#d3e5f2";
const mapP=panel(LX,R1,mx,my,lonTicks,latTicks,minusFmt,minusFmt,"Flight Track",{bg:OCEAN,noGrid:true,titleGap:8.7});
const geoLine=d3.line().x(d=>mx(d[0])).y(d=>my(d[1]));
const landG=mapP.content.append("g").style("filter","blur(0.4px)");
landG.selectAll(null).data(landMasses).join("path").attr("d",geoLine).attr("fill","#e7e7e3").attr("stroke","#b6bec2").attr("stroke-width",1);
landG.append("path").datum(seaCaspian).attr("d",geoLine).attr("fill",OCEAN).attr("stroke","#b6bec2").attr("stroke-width",.9);
landG.selectAll(null).data(borderLines).join("path").attr("d",geoLine).attr("fill","none").attr("stroke","#d8d9d5").attr("stroke-width",.8);
const gridOver=mapP.content.append("g");
lonTicks.forEach(d=>gridOver.append("line").attr("x1",mx(d)).attr("x2",mx(d)).attr("y1",R1[0]).attr("y2",R1[1]).attr("stroke","#8f9aa0").attr("stroke-opacity",.3).attr("stroke-width",.7).attr("stroke-dasharray","2,1.6"));
latTicks.forEach(d=>gridOver.append("line").attr("y1",my(d)).attr("y2",my(d)).attr("x1",LX).attr("x2",LX+LW).attr("stroke","#8f9aa0").attr("stroke-opacity",.3).attr("stroke-width",.7).attr("stroke-dasharray","2,1.6"));
mapP.content.selectAll(null).data(trackLegA.concat(trackLegB)).join("circle").attr("cx",d=>mx(d[0])).attr("cy",d=>my(d[1])).attr("r",2.9).attr("fill","#c0392b");
const star=d3.symbol(d3.symbolStar).size(133)();
mapP.top.append("circle").attr("cx",mx(launchFix[0])).attr("cy",my(launchFix[1])).attr("r",8.7).attr("fill","#27ae60").attr("stroke","#000").attr("stroke-width",1.5);
mapP.top.append("path").attr("d",star).attr("transform",`translate(${mx(lastFix[0])},${my(lastFix[1])})`).attr("fill","#2471a3").attr("stroke","#000").attr("stroke-width",1.5);
const ml=mapP.top.append("g");
ml.append("rect").attr("x",80.7).attr("y",284).attr("width",80).attr("height",49.3).attr("rx",2).attr("fill","#fff").attr("fill-opacity",.8).attr("stroke","#ccc").attr("stroke-opacity",.8).attr("stroke-width",1);
ml.append("circle").attr("cx",96.7).attr("cy",292.3).attr("r",1.8).attr("fill","#c0392b");
ml.append("circle").attr("cx",96.7).attr("cy",308.3).attr("r",8.7).attr("fill","#27ae60").attr("stroke","#000").attr("stroke-width",1.5);
ml.append("path").attr("d",star).attr("transform","translate(96.7,323.3)").attr("fill","#2471a3").attr("stroke","#000").attr("stroke-width",1.5);
[["Track",292.3],["Launch",308.3],["Last fix",323.3]].forEach(d=>ml.append("text").attr("x",115.7).attr("y",d[1]+3.7).attr("font-size",10.8).text(d[0]));
xlabel(LX+LW/2,379,"Longitude (deg)");
ylabel(27,R1[0]+(R1[1]-R1[0])/2,"Latitude (deg)");

// ---------- INFO ----------
infoLines.forEach(l=>svg.append("text").attr("x",RX+RW/2+l[4]).attr("y",l[3]).attr("text-anchor","middle").attr("dominant-baseline","central").attr("font-size",l[1]).style("fill",l[2]).text(l[0]));

// ---------- WIND ----------
const wy=d3.scaleLinear().domain([0,31.6]).range([R2[1],R2[0]]);
const windP=panel(LX,R2,xLeft,wy,dayDates,windTicks,fmtDate,d=>d,"Wind Speed vs. Time",{rot:true});
windP.content.append("path").datum(windBand).attr("d",d3.area().x(d=>xLeft(toDate(d[0]))).y0(d=>wy(d[1])).y1(d=>wy(d[2]))).attr("fill","#7f9196").attr("fill-opacity",.4);
windP.content.selectAll(null).data(windLegA.concat(windLegB)).join("circle").attr("cx",d=>xLeft(toDate(d[0]))).attr("cy",d=>wy(d[1])).attr("r",2.7).attr("fill","#2c3e50");
windP.content.append("path").datum(windMeanDays.map((d,i)=>[d,windMeanValues[i]])).attr("d",d3.line().x(d=>xLeft(toDate(d[0]*24))).y(d=>wy(d[1]))).attr("fill","none").attr("stroke","#c0392b").attr("stroke-width",1.6);
const wl=windP.top.append("g");
wl.append("rect").attr("x",604.7).attr("y",425.7).attr("width",161.3).attr("height",49.3).attr("rx",2).attr("fill","#fff").attr("fill-opacity",.85).attr("stroke","#ccc").attr("stroke-width",1);
wl.append("rect").attr("x",608.7).attr("y",430).attr("width",23.3).attr("height",9).attr("fill","#7f9196").attr("fill-opacity",.4);
wl.append("circle").attr("cx",620.4).attr("cy",450).attr("r",1.6).attr("fill","#2c3e50");
wl.append("line").attr("x1",608).attr("x2",632).attr("y1",465).attr("y2",465).attr("stroke","#c0392b").attr("stroke-width",1.6);
[["±1σ propagated error",435],["Wind speed",450],["Daily mean",466]].forEach(d=>wl.append("text").attr("x",640).attr("y",d[1]+4).attr("font-size",11.1).text(d[0]));
ylabel(33,R2[0]+(R2[1]-R2[0])/2,unit);

// ---------- LATITUDE ----------
const ly=d3.scaleLinear().domain([-90,90]).range([R2[1],R2[0]]);
const latP=panel(RX,R2,xRight,ly,dayDates.slice(1),latTicks,fmtDate,minusFmt,"Latitude vs. Time",{rot:true});
latP.content.selectAll(null).data(latLegA.concat(latLegB)).join("circle").attr("cx",d=>xRight(toDate(d[0]))).attr("cy",d=>ly(d[1])).attr("r",2.4).attr("fill","#000");
ylabel(815,R2[0]+(R2[1]-R2[0])/2,"Latitude (deg)");

// ---------- ALTITUDE ----------
const ay=d3.scaleLinear().domain([6964,7974]).range([R3[1],R3[0]]);
const altP=panel(LX,R3,xLeft,ay,dayDates,altTicks,fmtDate,d=>d,"Balloon Altitude vs. Time",{rot:true,titleGap:7.2});
altP.content.selectAll(null).data(altLegA.concat(altLegB)).join("circle").attr("cx",d=>xLeft(toDate(d[0]))).attr("cy",d=>ay(d[1])).attr("r",2.1).attr("fill","#7f8c8d");
altP.content.append("path").datum(altMeanDays.map((d,i)=>[d,altMeanValues[i]])).attr("d",d3.line().x(d=>xLeft(toDate(d[0]*24))).y(d=>ay(d[1]))).attr("fill","none").attr("stroke","#c0392b").attr("stroke-width",1.9);
ylabel(20,R3[0]+(R3[1]-R3[0])/2,"Altitude (m AMSL)");
xlabel(LX+LW/2,1177,"UTC date");

// ---------- HISTOGRAM ----------
const hx=d3.scaleLinear().domain([-100,100]).range([RX,RX+RW]);
const hy=d3.scaleLinear().domain([0,435.7]).range([R3[1],R3[0]]);
const histP=panel(RX,R3,hx,hy,histXTicks,histYTicks,minusFmt,d=>d,"U and V Wind Components",{titleGap:7.2});
function bars(edges,counts,color){
  histP.content.selectAll(null).data(counts.map((c,i)=>({c,a:edges[i],b:edges[i+1]})).filter(d=>d.c>0)).join("rect")
   .attr("x",d=>hx(d.a)).attr("width",d=>hx(d.b)-hx(d.a)).attr("y",d=>hy(d.c)).attr("height",d=>hy(0)-hy(d.c))
   .attr("fill",color).attr("fill-opacity",.65).attr("stroke","#000").attr("stroke-opacity",.7).attr("stroke-width",1.1);
}
bars(histEdgesU,histCountsU,"#1f77b4");
bars(histEdgesV,histCountsV,"#ff7f0e");
const hl=histP.top.append("g");
hl.append("rect").attr("x",1436).attr("y",813.5).attr("width",119).attr("height",34.5).attr("rx",2).attr("fill","#fff").attr("fill-opacity",.85).attr("stroke","#ccc").attr("stroke-width",1);
[["U (zonal)",824,"#1f77b4"],["V (meridional)",839,"#ff7f0e"]].forEach(d=>{
 hl.append("rect").attr("x",1441).attr("y",d[1]-4).attr("width",22).attr("height",8).attr("fill",d[2]).attr("fill-opacity",.65).attr("stroke","#000").attr("stroke-opacity",.7);
 hl.append("text").attr("x",1471).attr("y",d[1]+3.8).attr("font-size",11).text(d[0]);
});
ylabel(820,R3[0]+(R3[1]-R3[0])/2,"Frequency");
xlabel(RX+RW/2,1160,unit);
</script></body></html>
